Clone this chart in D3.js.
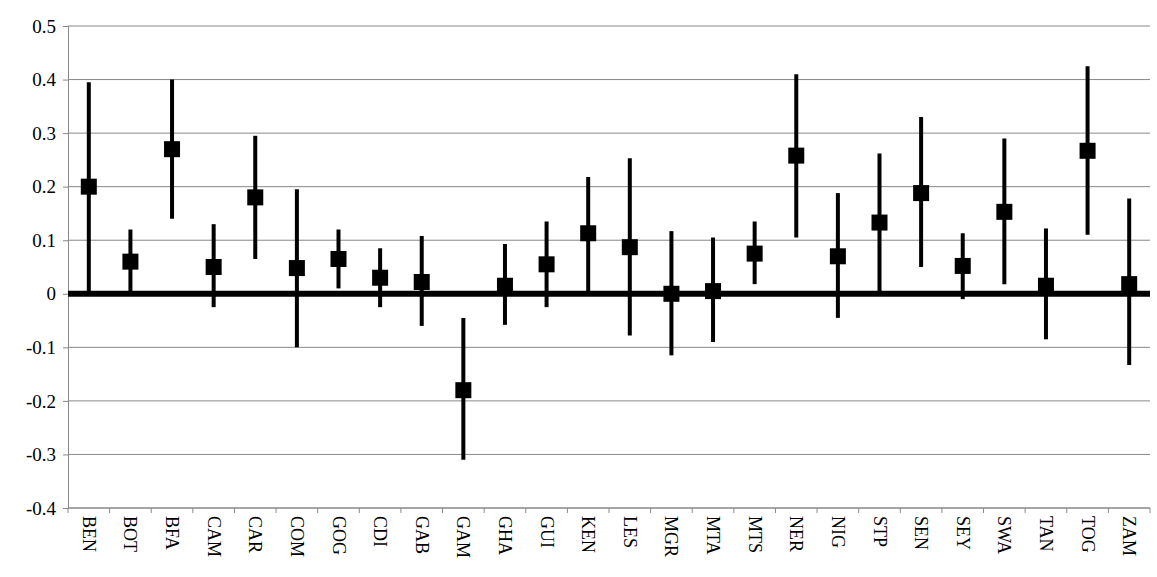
<!DOCTYPE html>
<html><head><meta charset="utf-8">
<script src="https://cdn.jsdelivr.net/npm/d3@7"></script>
<style>body{margin:0;background:#fff}</style>
</head><body>
<svg id="c" width="1157" height="577"></svg>
<script>
var countries = ['BEN','BOT','BFA','CAM','CAR','COM','GOG','CDI','GAB','GAM','GHA','GUI','KEN','LES','MGR','MTA','MTS','NER','NIG','STP','SEN','SEY','SWA','TAN','TOG','ZAM'];
var estimate = [0.2,0.06,0.27,0.05,0.18,0.048,0.065,0.03,0.022,-0.18,0.015,0.055,0.113,0.087,0.0,0.005,0.075,0.258,0.07,0.133,0.188,0.052,0.153,0.015,0.267,0.018];
var upper = [0.395,0.12,0.40,0.13,0.295,0.195,0.12,0.085,0.108,-0.045,0.093,0.135,0.218,0.253,0.117,0.105,0.135,0.41,0.188,0.262,0.33,0.113,0.29,0.122,0.425,0.178];
var lower = [0.0,0.0,0.14,-0.025,0.065,-0.10,0.01,-0.025,-0.06,-0.31,-0.058,-0.025,0.005,-0.078,-0.115,-0.09,0.018,0.105,-0.045,0.003,0.05,-0.01,0.018,-0.085,0.11,-0.133];
var yTicks = [-0.4,-0.3,-0.2,-0.1,0,0.1,0.2,0.3,0.4,0.5];
var yLabels = ['-0.4','-0.3','-0.2','-0.1','0','0.1','0.2','0.3','0.4','0.5'];

var svg = d3.select('#c');
var m = {l: 68, r: 7, t: 26, b: 69};
var W = 1157, H = 577;
var font = '"Liberation Serif", "DejaVu Serif", serif';
var x = d3.scaleBand().domain(countries).range([m.l, W - m.r]);
var y = d3.scaleLinear().domain([-0.4, 0.5]).range([H - m.b, m.t]);

svg.append('g').selectAll('line').data(yTicks).enter().append('line')
  .attr('x1', m.l).attr('x2', W - m.r)
  .attr('y1', function (d) { return y(d); }).attr('y2', function (d) { return y(d); })
  .attr('stroke', '#888').attr('stroke-width', 1);

var ya = svg.append('g').attr('transform', 'translate(' + m.l + ',0)')
  .call(d3.axisLeft(y).tickValues(yTicks).tickSize(5).tickFormat(''));
ya.select('.domain').attr('stroke', '#888');
ya.selectAll('.tick line').attr('stroke', '#888');
svg.append('g').selectAll('text').data(yTicks).enter().append('text')
  .attr('x', m.l - 12).attr('y', function (d) { return y(d); }).attr('dy', '0.35em')
  .attr('text-anchor', 'end').style('font-family', font).style('font-size', '19px')
  .text(function (d, i) { return yLabels[i]; });

// bottom axis frame
svg.append('line').attr('x1', m.l).attr('x2', W - m.r).attr('y1', y(-0.4)).attr('y2', y(-0.4)).attr('stroke', '#888');
svg.append('g').selectAll('line').data(countries.concat(['end'])).enter().append('line')
  .attr('x1', function (d, i) { return m.l + i * x.step(); }).attr('x2', function (d, i) { return m.l + i * x.step(); })
  .attr('y1', y(-0.4)).attr('y2', y(-0.4) + 5).attr('stroke', '#888');

// category labels, read top to bottom
svg.append('g').selectAll('text').data(countries).enter().append('text')
  .attr('transform', function (d) { return 'translate(' + (x(d) + x.bandwidth() / 2 - 6) + ',' + (y(-0.4) + 8) + ') rotate(90)'; })
  .style('font-family', font).style('font-size', '18px').text(function (d) { return d; });

// zero line
svg.append('line').attr('x1', m.l).attr('x2', W - m.r).attr('y1', y(0)).attr('y2', y(0))
  .attr('stroke', '#000').attr('stroke-width', 6);

var g = svg.append('g');
g.selectAll('line.err').data(countries).enter().append('line')
  .attr('x1', function (d) { return x(d) + x.bandwidth() / 2; })
  .attr('x2', function (d) { return x(d) + x.bandwidth() / 2; })
  .attr('y1', function (d, i) { return y(lower[i]); })
  .attr('y2', function (d, i) { return y(upper[i]); })
  .attr('stroke', '#000').attr('stroke-width', 4);
g.selectAll('rect').data(countries).enter().append('rect')
  .attr('x', function (d) { return x(d) + x.bandwidth() / 2 - 8; })
  .attr('y', function (d, i) { return y(estimate[i]) - 8; })
  .attr('width', 16).attr('height', 16).attr('fill', '#000');
</script>
</body></html>
